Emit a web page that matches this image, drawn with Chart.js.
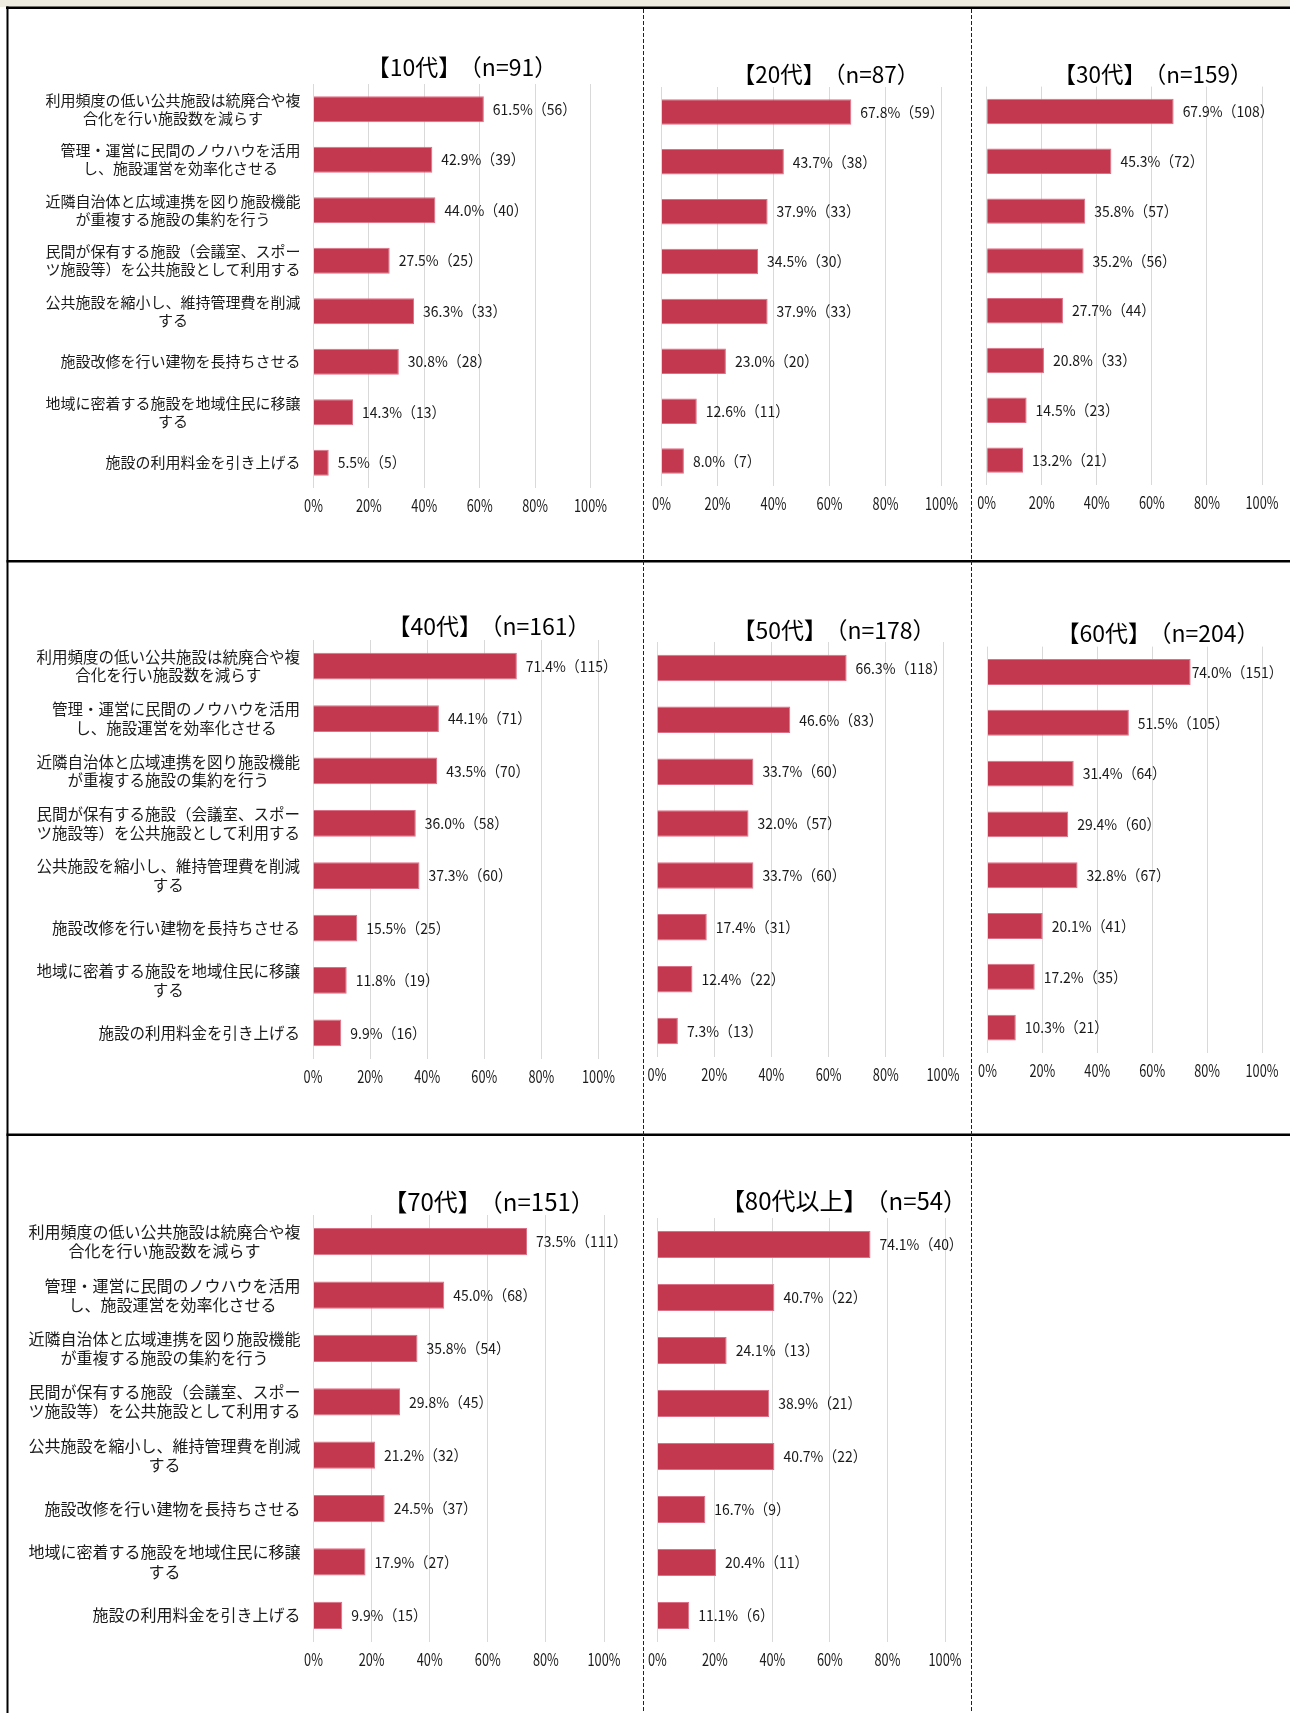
<!DOCTYPE html>
<html lang="ja">
<head>
<meta charset="utf-8">
<script src="https://cdn.jsdelivr.net/npm/chart.js@4.4.1/dist/chart.umd.min.js"></script>
<style>
  html, body { margin: 0; padding: 0; background: #fff; }
  #page { position: relative; width: 1290px; height: 1713px; overflow: hidden; background: #fff; }
  #page canvas { position: absolute; }
  .ttl {
    position: absolute; transform: translate(-50%, -50%); white-space: nowrap;
    font-family: 'Noto Sans CJK JP', sans-serif; color: #000; line-height: 1;
  }
  .ttl .n { margin-left: 9px; }
</style>
</head>
<body>
<div id="page">
  <canvas id="frame" width="1290" height="1713" style="left:0;top:0"></canvas>
</div>
<script>
// 施策項目（縦軸カテゴリ）
const categories = [
  ['利用頻度の低い公共施設は統廃合や複', '合化を行い施設数を減らす'],
  ['管理・運営に民間のノウハウを活用', 'し、施設運営を効率化させる'],
  ['近隣自治体と広域連携を図り施設機能', 'が重複する施設の集約を行う'],
  ['民間が保有する施設（会議室、スポー', 'ツ施設等）を公共施設として利用する'],
  ['公共施設を縮小し、維持管理費を削減', 'する'],
  ['施設改修を行い建物を長持ちさせる'],
  ['地域に密着する施設を地域住民に移譲', 'する'],
  ['施設の利用料金を引き上げる']
];

// 横軸目盛
const xTicks = [0, 20, 40, 60, 80, 100];

// 年代と回答者数
const ageGroups = ['10代', '20代', '30代', '40代', '50代', '60代', '70代', '80代以上'];
const sampleSizes = [91, 87, 159, 161, 178, 204, 151, 54];

// 年代別の割合（%）と回答数
const pct10 = [61.5, 42.9, 44.0, 27.5, 36.3, 30.8, 14.3, 5.5];
const cnt10 = [56, 39, 40, 25, 33, 28, 13, 5];
const pct20 = [67.8, 43.7, 37.9, 34.5, 37.9, 23.0, 12.6, 8.0];
const cnt20 = [59, 38, 33, 30, 33, 20, 11, 7];
const pct30 = [67.9, 45.3, 35.8, 35.2, 27.7, 20.8, 14.5, 13.2];
const cnt30 = [108, 72, 57, 56, 44, 33, 23, 21];
const pct40 = [71.4, 44.1, 43.5, 36.0, 37.3, 15.5, 11.8, 9.9];
const cnt40 = [115, 71, 70, 58, 60, 25, 19, 16];
const pct50 = [66.3, 46.6, 33.7, 32.0, 33.7, 17.4, 12.4, 7.3];
const cnt50 = [118, 83, 60, 57, 60, 31, 22, 13];
const pct60 = [74.0, 51.5, 31.4, 29.4, 32.8, 20.1, 17.2, 10.3];
const cnt60 = [151, 105, 64, 60, 67, 41, 35, 21];
const pct70 = [73.5, 45.0, 35.8, 29.8, 21.2, 24.5, 17.9, 9.9];
const cnt70 = [111, 68, 54, 45, 32, 37, 27, 15];
const pct80 = [74.1, 40.7, 24.1, 38.9, 40.7, 16.7, 20.4, 11.1];
const cnt80 = [40, 22, 13, 21, 22, 9, 11, 6];

const CJK = "'Noto Sans CJK JP', sans-serif";
const BAR = '#C3384F';
const BAR_EDGE = '#DC7086';
const TEXT = '#1a1a1a';

// パネル配置（ページ座標）
const panels = [
  { pct: pct10, cnt: cnt10, box: [10, 40, 630],   x0: 313.5, x1: 590.5, top: 84,    bottom: 488,    tx: 462,  ty: 66,   tsize: 23, lsize: 15 },
  { pct: pct20, cnt: cnt20, box: [645, 40, 322],  x0: 661.5, x1: 941.5, top: 87,    bottom: 486,    tx: 826,  ty: 73,   tsize: 22.5 },
  { pct: pct30, cnt: cnt30, box: [972, 40, 318],  x0: 986.7, x1: 1262,  top: 86.6,  bottom: 485,    tx: 1153, ty: 73,   tsize: 22.5 },
  { pct: pct40, cnt: cnt40, box: [10, 600, 630],  x0: 313,   x1: 598.5, top: 640,   bottom: 1059,   tx: 489,  ty: 625,  tsize: 23, lsize: 15.5 },
  { pct: pct50, cnt: cnt50, box: [645, 600, 322], x0: 657,   x1: 943,   top: 642,   bottom: 1057,   tx: 834,  ty: 629,  tsize: 23 },
  { pct: pct60, cnt: cnt60, box: [972, 600, 318], x0: 987.5, x1: 1262,  top: 646.6, bottom: 1053.4, tx: 1158, ty: 632,  tsize: 23 },
  { pct: pct70, cnt: cnt70, box: [10, 1170, 630], x0: 313.5, x1: 604,   top: 1215,  bottom: 1642,   tx: 489,  ty: 1201, tsize: 24, lsize: 16 },
  { pct: pct80, cnt: cnt80, box: [645, 1170, 322], x0: 657.3, x1: 945,  top: 1218,  bottom: 1642,   tx: 844,  ty: 1200, tsize: 24 }
];

// 枠線・区切り線
function drawFrame() {
  const ctx = document.getElementById('frame').getContext('2d');
  ctx.fillStyle = '#EEEBE0';
  ctx.fillRect(0, 0, 1290, 7);
  ctx.fillStyle = '#000';
  ctx.fillRect(6, 6.5, 1284, 2.5);
  ctx.fillRect(6.5, 6.5, 2, 1707);
  ctx.fillRect(6.5, 560, 1284, 2.5);
  ctx.fillRect(6.5, 1133.5, 1284, 2.5);
  ctx.strokeStyle = '#222';
  ctx.lineWidth = 1;
  ctx.setLineDash([4, 2]);
  [643.5, 971.5].forEach(x => {
    ctx.beginPath();
    ctx.moveTo(x, 9);
    ctx.lineTo(x, 1713);
    ctx.stroke();
  });
}

// 横方向に詰めた文字（等幅ゴシック風の数字）
function squeezedText(ctx, text, x, y, align, sx) {
  ctx.save();
  ctx.translate(x, y);
  ctx.scale(sx, 1);
  ctx.textAlign = align;
  ctx.fillText(text, 0, 0);
  ctx.restore();
}

// 棒の右に「xx.x%（n）」
function valueLabelPlugin(counts, size) {
  const sx = 0.93;
  return {
    id: 'valueLabels',
    afterDatasetsDraw(chart) {
      const { ctx, width } = chart;
      const data = chart.data.datasets[0].data;
      ctx.save();
      ctx.font = `${size}px ${CJK}`;
      ctx.fillStyle = TEXT;
      ctx.textBaseline = 'middle';
      chart.getDatasetMeta(0).data.forEach((bar, i) => {
        const text = `${data[i].toFixed(1)}%（${counts[i]}）`;
        const w = ctx.measureText(text).width * sx;
        // 右端からはみ出す場合は棒に寄せる
        const x = bar.x + 9 + w > width - 2 ? bar.x + 1 : bar.x + 9;
        squeezedText(ctx, text, x, bar.y, 'left', sx);
      });
      ctx.restore();
    }
  };
}

// 横軸目盛ラベル
function tickLabelPlugin() {
  return {
    id: 'tickLabels',
    afterDraw(chart) {
      const { ctx, chartArea } = chart;
      const xs = chart.scales.x;
      ctx.save();
      ctx.font = `17px ${CJK}`;
      ctx.fillStyle = TEXT;
      ctx.textBaseline = 'middle';
      xTicks.forEach(v => squeezedText(ctx, v + '%', xs.getPixelForValue(v), chartArea.bottom + 18, 'center', 0.75));
      ctx.restore();
    }
  };
}

// 左列だけ項目名を描く（右寄せ、行は中央揃え）
function categoryLabelPlugin(size) {
  return {
    id: 'categoryLabels',
    afterDraw(chart) {
      const { ctx, chartArea } = chart;
      const yScale = chart.scales.y;
      const lh = size * 1.2;
      ctx.save();
      ctx.font = `${size}px ${CJK}`;
      ctx.fillStyle = TEXT;
      ctx.textAlign = 'center';
      ctx.textBaseline = 'middle';
      categories.forEach((lines, i) => {
        const w = Math.max(...lines.map(t => ctx.measureText(t).width));
        const cx = chartArea.left - 13 - w / 2;
        const yc = yScale.getPixelForValue(i);
        lines.forEach((t, k) => ctx.fillText(t, cx, yc + (k - (lines.length - 1) / 2) * lh));
      });
      ctx.restore();
    }
  };
}

function buildPanel(p, idx) {
  const [L, T, W] = p.box;
  const axisH = 40;
  const H = p.bottom - T + axisH;
  const page = document.getElementById('page');

  const canvas = document.createElement('canvas');
  canvas.style.left = L + 'px';
  canvas.style.top = T + 'px';
  canvas.style.width = W + 'px';
  canvas.style.height = H + 'px';
  canvas.width = W;
  canvas.height = H;
  page.appendChild(canvas);

  // 見出し「【年代】（n=…）」
  const title = document.createElement('div');
  title.className = 'ttl';
  const head = document.createElement('span');
  head.textContent = `【${ageGroups[idx]}】`;
  const n = document.createElement('span');
  n.className = 'n';
  n.textContent = `（n=${sampleSizes[idx]}）`;
  title.append(head, n);
  title.style.left = p.tx + 'px';
  title.style.top = p.ty + 'px';
  title.style.fontSize = p.tsize + 'px';
  page.appendChild(title);

  const plugins = [valueLabelPlugin(p.cnt, 15), tickLabelPlugin()];
  if (p.lsize) plugins.push(categoryLabelPlugin(p.lsize));

  new Chart(canvas, {
    type: 'bar',
    data: {
      labels: categories.map(c => c.join('')),
      datasets: [{
        data: p.pct,
        backgroundColor: BAR,
        borderColor: BAR_EDGE,
        borderWidth: 1,
        categoryPercentage: 1,
        barPercentage: 0.51
      }]
    },
    options: {
      indexAxis: 'y',
      responsive: false,
      animation: false,
      events: [],
      layout: {
        padding: { left: p.x0 - L, right: L + W - p.x1, top: p.top - T, bottom: 0 }
      },
      scales: {
        x: {
          min: 0,
          max: 100,
          afterBuildTicks: s => { s.ticks = xTicks.map(v => ({ value: v })); },
          afterFit: s => { s.height = axisH; },
          ticks: { display: false },
          grid: { color: '#D9D9D9', lineWidth: 1, drawTicks: false },
          border: { display: false }
        },
        y: {
          display: false,
          grid: { display: false }
        }
      },
      plugins: {
        legend: { display: false },
        tooltip: { enabled: false },
        title: { display: false }
      }
    },
    plugins
  });
}

drawFrame();
panels.forEach(buildPanel);
</script>
</body>
</html>
